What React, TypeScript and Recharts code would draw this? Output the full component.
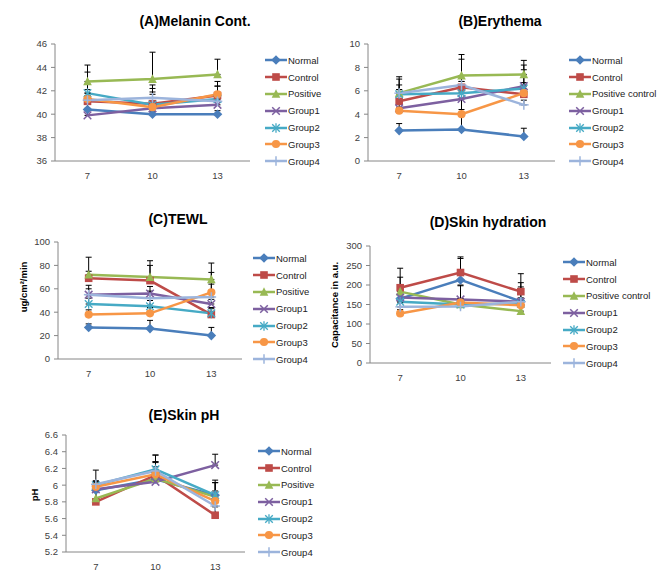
import { ErrorBar, Legend, Line, LineChart, XAxis, YAxis } from 'recharts';

const days = ['7', '10', '13'];
const shortNames = ['Normal', 'Control', 'Positive', 'Group1', 'Group2', 'Group3', 'Group4'];
const longNames = ['Normal', 'Control', 'Positive control', 'Group1', 'Group2', 'Group3', 'Group4'];
const colors = ['#4A7EBB', '#BE4B48', '#98B954', '#7D60A0', '#46AAC5', '#F79646', '#9CB4DC'];
const shapes = ['diamond', 'square', 'triangle', 'x', 'star', 'circle', 'plus'];

// (A) melanin content
const melaninValues = [
  [40.4, 40.0, 40.0],
  [41.1, 40.9, 41.6],
  [42.8, 43.0, 43.4],
  [39.9, 40.5, 40.8],
  [41.8, 40.8, 41.3],
  [41.3, 40.6, 41.7],
  [41.2, 41.4, 41.1],
];
const melaninErrors = [
  [0.5, 0.2, 0.3],
  [2.5, 1.6, 1.2],
  [1.4, 2.3, 1.3],
  [0.6, 0.4, 0.5],
  [0.3, 1.4, 1.1],
  [0.5, 1.3, 0.7],
  [0.4, 0.3, 0.4],
];
const melaninTicks = [36, 38, 40, 42, 44, 46];

// (B) erythema
const erythemaValues = [
  [2.6, 2.7, 2.1],
  [5.1, 6.3, 5.7],
  [5.8, 7.3, 7.4],
  [4.5, 5.3, 6.4],
  [5.7, 5.8, 6.2],
  [4.3, 4.0, 5.8],
  [5.8, 6.5, 4.8],
];
const erythemaErrors = [
  [0.6, 6.0, 0.7],
  [1.9, 0.5, 1.0],
  [1.4, 1.8, 1.2],
  [2.0, 0.6, 1.8],
  [0.4, 0.4, 1.6],
  [0.3, 0.4, 0.7],
  [0.3, 0.3, 0.4],
];
const erythemaTicks = [0, 2, 4, 6, 8, 10];

// (C) TEWL
const tewlValues = [
  [27, 26, 20],
  [69, 67, 38],
  [72, 70, 68],
  [55, 56, 47],
  [47, 45, 39],
  [38, 39, 57],
  [55, 52, 53],
];
const tewlErrors = [
  [3, 7, 7],
  [6, 13, 5],
  [15, 14, 14],
  [8, 6, 4],
  [5, 5, 5],
  [4, 5, 17],
  [5, 6, 11],
];
const tewlTicks = [0, 20, 40, 60, 80, 100];

// (D) skin hydration
const hydrationValues = [
  [165, 213, 158],
  [193, 232, 183],
  [183, 150, 133],
  [168, 163, 157],
  [157, 150, 152],
  [127, 155, 148],
  [144, 145, 157],
];
const hydrationErrors = [
  [30, 55, 48],
  [50, 40, 46],
  [37, 50, 10],
  [25, 35, 38],
  [10, 10, 10],
  [10, 10, 10],
  [10, 10, 10],
];
const hydrationTicks = [0, 50, 100, 150, 200, 250, 300];

// (E) skin pH
const phValues = [
  [5.94, 6.07, 5.88],
  [5.8, 6.12, 5.64],
  [5.84, 6.08, 5.86],
  [5.95, 6.04, 6.24],
  [6.0, 6.19, 5.88],
  [5.98, 6.13, 5.81],
  [6.01, 6.17, 5.75],
];
const phErrors = [
  [0.24, 0.29, 0.18],
  [0.22, 0.16, 0.1],
  [0.1, 0.2, 0.17],
  [0.1, 0.1, 0.13],
  [0.05, 0.17, 0.15],
  [0.05, 0.14, 0.12],
  [0.03, 0.05, 0.1],
];
const phTicks = [5.2, 5.4, 5.6, 5.8, 6, 6.2, 6.4, 6.6];

const FONT = '"Liberation Sans", Arial, sans-serif';
const AXIS = '#868686';

function Marker({ cx, cy, shape, color }: { cx: number; cy: number; shape: string; color: string }) {
  const s = 3.8;
  switch (shape) {
    case 'diamond':
      return <polygon points={`${cx},${cy - s - 1} ${cx + s + 1},${cy} ${cx},${cy + s + 1} ${cx - s - 1},${cy}`} fill={color} />;
    case 'square':
      return <rect x={cx - s} y={cy - s} width={s * 2} height={s * 2} fill={color} />;
    case 'triangle':
      return <polygon points={`${cx},${cy - s - 1} ${cx + s + 0.5},${cy + s} ${cx - s - 0.5},${cy + s}`} fill={color} />;
    case 'x':
      return (
        <g stroke={color} strokeWidth={1.5}>
          <line x1={cx - s} y1={cy - s} x2={cx + s} y2={cy + s} />
          <line x1={cx - s} y1={cy + s} x2={cx + s} y2={cy - s} />
        </g>
      );
    case 'star':
      return (
        <g stroke={color} strokeWidth={1.3}>
          <line x1={cx - s} y1={cy - s} x2={cx + s} y2={cy + s} />
          <line x1={cx - s} y1={cy + s} x2={cx + s} y2={cy - s} />
          <line x1={cx} y1={cy - s - 1} x2={cx} y2={cy + s + 1} />
        </g>
      );
    case 'circle':
      return <circle cx={cx} cy={cy} r={s + 0.3} fill={color} />;
    default:
      return (
        <g stroke={color} strokeWidth={1.5}>
          <line x1={cx - s - 1} y1={cy} x2={cx + s + 1} y2={cy} />
          <line x1={cx} y1={cy - s - 1} x2={cx} y2={cy + s + 1} />
        </g>
      );
  }
}

function LegendBox({ names }: { names: string[] }) {
  return (
    <div style={{ fontFamily: FONT, fontSize: 9.5, color: '#222' }}>
      {names.map((n, i) => (
        <div key={n} style={{ display: 'flex', alignItems: 'center', height: 16.8 }}>
          <svg width={22} height={12} style={{ display: 'block' }}>
            <line x1={0} y1={6} x2={22} y2={6} stroke={colors[i]} strokeWidth={2.5} />
            <Marker cx={11} cy={6} shape={shapes[i]} color={colors[i]} />
          </svg>
          <span style={{ marginLeft: 1, whiteSpace: 'nowrap' }}>{n}</span>
        </div>
      ))}
    </div>
  );
}

type PanelProps = {
  x: number;
  y: number;
  title: string;
  titleX: number;
  titleY: number;
  yLabel?: string;
  yLabelX?: number;
  yLabelY?: number;
  values: number[][];
  errors: number[][];
  ticks: number[];
  names: string[];
  plotL: number;
  plotR: number;
  plotT: number;
  plotB: number;
  legendX: number;
  legendY: number;
};

function Panel(p: PanelProps) {
  const W = 330;
  const H = 200;
  const yw = 30;
  const rows = days.map((d, j) => {
    const row: Record<string, unknown> = { day: d };
    p.values.forEach((v, i) => {
      row[`s${i}`] = v[j];
      row[`e${i}`] = [0, p.errors[i][j]];
    });
    return row;
  });
  const pad = (p.plotR - p.plotL) / 6;
  return (
    <div style={{ position: 'absolute', left: p.x, top: p.y, width: W, height: H }}>
      <div
        style={{
          position: 'absolute',
          left: p.titleX - 120,
          top: p.titleY - 10,
          width: 240,
          textAlign: 'center',
          fontFamily: FONT,
          fontWeight: 'bold',
          fontSize: 14,
          lineHeight: '20px',
          color: '#000',
        }}
      >
        {p.title}
      </div>
      {p.yLabel && (
        <div
          style={{
            position: 'absolute',
            left: (p.yLabelX ?? 0) - 60,
            top: (p.yLabelY ?? 0) - 7,
            width: 120,
            height: 14,
            lineHeight: '14px',
            textAlign: 'center',
            transform: 'rotate(-90deg)',
            fontFamily: FONT,
            fontWeight: 'bold',
            fontSize: 9.5,
            color: '#000',
            whiteSpace: 'nowrap',
          }}
        >
          {p.yLabel}
        </div>
      )}
      <LineChart
        width={W}
        height={H}
        data={rows}
        margin={{ top: p.plotT, right: W - p.plotR, bottom: H - p.plotB - 20, left: p.plotL - yw }}
      >
        <XAxis
          dataKey="day"
          height={20}
          padding={{ left: pad, right: pad }}
          stroke={AXIS}
          tickLine={false}
          tickMargin={5}
          tick={{ fill: '#404040', fontSize: 9.5, fontFamily: FONT }}
        />
        <YAxis
          width={yw}
          type="number"
          domain={[p.ticks[0], p.ticks[p.ticks.length - 1]]}
          ticks={p.ticks}
          interval={0}
          stroke={AXIS}
          tickSize={4}
          tickMargin={4}
          tick={{ fill: '#404040', fontSize: 9.5, fontFamily: FONT }}
        />
        {p.values.map((_, i) => (
          <Line
            key={i}
            dataKey={`s${i}`}
            name={p.names[i]}
            stroke={colors[i]}
            strokeWidth={2.5}
            isAnimationActive={false}
            activeDot={false}
            dot={(d: any) => (
              <g key={`d${i}-${d.index}`}>
                <Marker cx={d.cx} cy={d.cy} shape={shapes[i]} color={colors[i]} />
              </g>
            )}
          >
            <ErrorBar dataKey={`e${i}`} direction="y" width={3} stroke="#000" strokeWidth={1} />
          </Line>
        ))}
        <Legend
          layout="vertical"
          align="center"
          verticalAlign="middle"
          wrapperStyle={{ left: p.legendX, top: p.legendY, width: 95 }}
          content={() => <LegendBox names={p.names} />}
        />
      </LineChart>
    </div>
  );
}

export default function App() {
  return (
    <div style={{ position: 'absolute', left: 0, top: 0, width: 665, height: 580, background: '#fff', overflow: 'hidden' }}>
      <Panel
        x={0}
        y={0}
        title="(A)Melanin Cont."
        titleX={195}
        titleY={21}
        values={melaninValues}
        errors={melaninErrors}
        ticks={melaninTicks}
        names={shortNames}
        plotL={55}
        plotR={250}
        plotT={44}
        plotB={161}
        legendX={265}
        legendY={52}
      />
      <Panel
        x={330}
        y={0}
        title="(B)Erythema"
        titleX={170}
        titleY={21}
        values={erythemaValues}
        errors={erythemaErrors}
        ticks={erythemaTicks}
        names={longNames}
        plotL={38}
        plotR={225}
        plotT={44}
        plotB={161}
        legendX={239}
        legendY={52}
      />
      <Panel
        x={0}
        y={190}
        title="(C)TEWL"
        titleX={178}
        titleY={29}
        yLabel="ug/cm²/min"
        yLabelX={24}
        yLabelY={97}
        values={tewlValues}
        errors={tewlErrors}
        ticks={tewlTicks}
        names={shortNames}
        plotL={58}
        plotR={242}
        plotT={52}
        plotB={169}
        legendX={253}
        legendY={60}
      />
      <Panel
        x={330}
        y={190}
        title="(D)Skin hydration"
        titleX={158}
        titleY={32}
        yLabel="Capacitance in a.u."
        yLabelX={5}
        yLabelY={115}
        values={hydrationValues}
        errors={hydrationErrors}
        ticks={hydrationTicks}
        names={longNames}
        plotL={40}
        plotR={221}
        plotT={56}
        plotB={173}
        legendX={233}
        legendY={64}
      />
      <Panel
        x={0}
        y={390}
        title="(E)Skin pH"
        titleX={184}
        titleY={25}
        yLabel="pH"
        yLabelX={35}
        yLabelY={105}
        values={phValues}
        errors={phErrors}
        ticks={phTicks}
        names={shortNames}
        plotL={66}
        plotR={245}
        plotT={45}
        plotB={162}
        legendX={258}
        legendY={53}
      />
    </div>
  );
}
